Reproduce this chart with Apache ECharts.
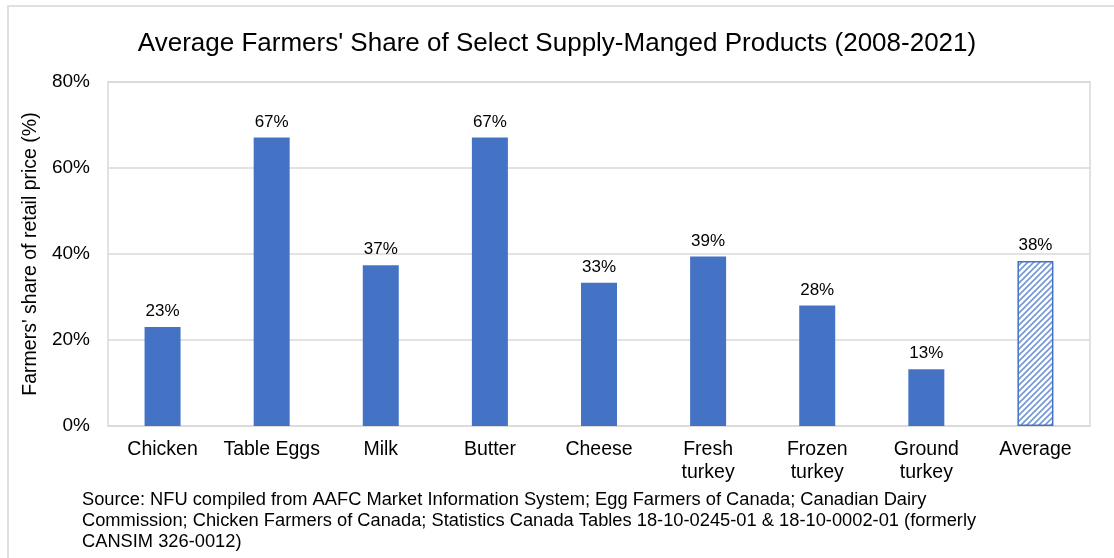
<!DOCTYPE html>
<html>
<head>
<meta charset="utf-8">
<script src="https://cdn.jsdelivr.net/npm/echarts@6/dist/echarts.min.js"></script>
<style>
  html, body { margin: 0; padding: 0; background: #fff; }
  #frame { position: absolute; left: 7px; top: 5px; width: 1110px; height: 560px;
           border-top: 2px solid #e0e0e0; border-left: 2px solid #e0e0e0; }
  #chart { position: absolute; left: 0; top: 0; width: 1114px; height: 558px; }
</style>
</head>
<body>
<div id="frame"></div>
<div id="chart"></div>
<script>
const categories = ['Chicken', 'Table Eggs', 'Milk', 'Butter', 'Cheese',
  'Fresh\nturkey', 'Frozen\nturkey', 'Ground\nturkey', 'Average']
const shares = [23.0, 67.1, 37.4, 67.1, 33.3, 39.4, 28.0, 13.2, 38.4]
const yTicks = [0, 20, 40, 60, 80]
const sourceLines = [
  'Source: NFU compiled from AAFC Market Information System; Egg Farmers of Canada; Canadian Dairy',
  'Commission; Chicken Farmers of Canada; Statistics Canada Tables 18-10-0245-01 & 18-10-0002-01 (formerly',
  'CANSIM 326-0012)'
]

const FONT = '"Liberation Sans", Arial, sans-serif'
const BLUE = '#4472C4'

// diagonal hatch for the average bar
function hatch() {
  const c = document.createElement('canvas')
  c.width = 6
  c.height = 6
  const ctx = c.getContext('2d')
  ctx.fillStyle = '#fff'
  ctx.fillRect(0, 0, 6, 6)
  ctx.strokeStyle = '#7396d8'
  ctx.lineWidth = 1.6
  ctx.beginPath()
  ctx.moveTo(-1, 7); ctx.lineTo(7, -1)
  ctx.moveTo(-4, 4); ctx.lineTo(4, -4)
  ctx.moveTo(2, 10); ctx.lineTo(10, 2)
  ctx.stroke()
  return c
}

const chart = echarts.init(document.getElementById('chart'))

const barData = shares.map((v, i) => {
  if (categories[i] === 'Average') {
    return {
      value: v,
      itemStyle: { color: { image: hatch(), repeat: 'repeat' }, borderColor: BLUE, borderWidth: 1.5 }
    }
  }
  return v
})

chart.setOption({
  animation: false,
  title: {
    text: "Average Farmers' Share of Select Supply-Manged Products (2008-2021)",
    left: 'center',
    top: 26,
    textStyle: { fontFamily: FONT, fontSize: 26, fontWeight: 'normal', color: '#000' }
  },
  grid: {
    left: 108, right: 24, top: 82, bottom: 132,
    show: true, borderColor: '#d9d9d9', borderWidth: 1.5
  },
  xAxis: {
    type: 'category',
    data: categories,
    axisLine: { show: false },
    axisTick: { show: false },
    axisLabel: { fontFamily: FONT, fontSize: 19.5, color: '#000', margin: 12, lineHeight: 23, interval: 0 }
  },
  yAxis: {
    type: 'value',
    min: yTicks[0],
    max: yTicks[yTicks.length - 1],
    interval: 20,
    name: "Farmers' share of retail price (%)",
    nameLocation: 'middle',
    nameGap: 67,
    nameTextStyle: { fontFamily: FONT, fontSize: 19.5, color: '#000' },
    axisLabel: { fontFamily: FONT, fontSize: 19, color: '#000', margin: 18, formatter: '{value}%' },
    splitLine: { lineStyle: { color: '#d9d9d9', width: 1.5 } }
  },
  series: [{
    type: 'bar',
    data: barData,
    barWidth: 36,
    itemStyle: { color: BLUE },
    label: {
      show: true,
      position: 'top',
      distance: 7,
      fontFamily: FONT,
      fontSize: 17,
      color: '#000',
      formatter: p => Math.round(p.value) + '%'
    }
  }],
  graphic: [{
    type: 'text',
    left: 82,
    top: 489,
    style: {
      text: sourceLines.join('\n'),
      font: '18.3px ' + FONT,
      lineHeight: 21,
      fill: '#000'
    }
  }]
})
</script>
</body>
</html>
